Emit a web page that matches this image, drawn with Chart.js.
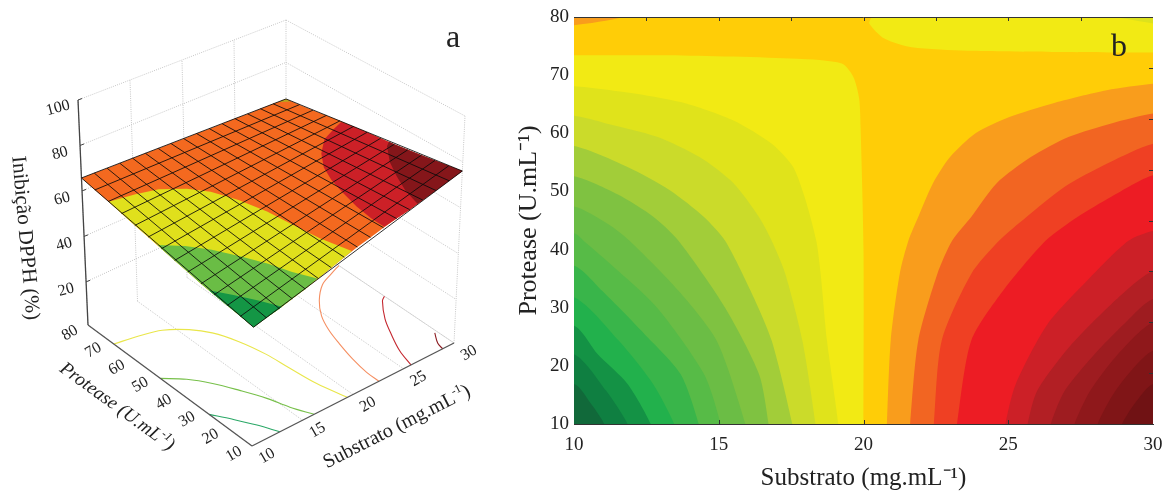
<!DOCTYPE html>
<html>
<head>
<meta charset="utf-8">
<title>Inibição DPPH</title>
<script src="https://cdn.jsdelivr.net/npm/chart.js@4/dist/chart.umd.min.js"></script>
<style>
  html, body { margin: 0; padding: 0; background: #fff; }
  #wrap { position: relative; width: 1165px; height: 493px; overflow: hidden; }
  canvas { position: absolute; top: 0; }
  #surfaceChart { left: 0; }
  #contourChart { left: 500px; }
</style>
</head>
<body>
<div id="wrap">
  <canvas id="surfaceChart" width="500" height="493"></canvas>
  <canvas id="contourChart" width="665" height="493"></canvas>
</div>
<script>
// --- tick labels ---
const substratoTicks = [10, 15, 20, 25, 30];
const proteaseTicks = [10, 20, 30, 40, 50, 60, 70, 80];
const inibicaoTicks = [20, 40, 60, 80, 100];

// --- panel b: band boundaries [substrato, protease] ---
const greenSide = [
  [[20, 10], [20, 40], [19.9, 61], [19.85, 66], [19.65, 69.7], [19.25, 72], [17.7, 72.8], [13.3, 73.4], [10, 73.4]],
  [[19.13, 10], [18.74, 24.3], [18.52, 35.8], [18.37, 41.5], [18, 48.5], [17.57, 54.2], [16.83, 58.2], [15.51, 62.2], [13.9, 65.1], [12.14, 66.8], [10, 68.1]],
  [[18.34, 10], [17.89, 24.3], [17.3, 35.8], [16.83, 41.5], [16.39, 45.6], [15.51, 51.4], [14.34, 55.9], [12.87, 59.4], [11.11, 61.7], [10, 63]],
  [[17.54, 10], [16.83, 24.3], [16.1, 32.9], [15.22, 41.5], [14.49, 45.6], [13.31, 50.2], [11.85, 54.2], [10, 57.8]],
  [[16.72, 10], [16.39, 18.6], [15.22, 30], [13.61, 41.5], [12.75, 45.6], [11.5, 49.5], [10, 52.6]],
  [[15.92, 10], [14.93, 24.3], [13.61, 32.9], [11.92, 41.5], [11.2, 44.3], [10, 47.4]],
  [[15.07, 10], [14.49, 18.6], [12.87, 30], [11.26, 37.5], [10.4, 41.2], [10, 42.8]],
  [[14.31, 10], [13.68, 18.6], [12.43, 25.5], [10.97, 32.9], [10, 37.2]],
  [[13.46, 10], [12.73, 16.9], [11.55, 24.3], [10, 31.8]],
  [[12.65, 10], [11.85, 16.9], [10.82, 22], [10, 26.9]],
  [[11.85, 10], [11.11, 15.7], [10, 22]],
  [[11.04, 10], [10.6, 13.4], [10, 16.9]],
];
const greenSideColors = ["#F2EA14", "#E0E31B", "#CBDB2A", "#A2CD39", "#7FC241", "#6BBD45", "#57BB47", "#39B54A", "#22B14C", "#149245", "#0F7F41", "#11693A"];

const redSide = [
  [[20.81, 10], [20.94, 24.3], [21.25, 35.8], [21.55, 41.5], [21.89, 45.6], [22.4, 51.4], [22.99, 55.9], [23.87, 60], [25.04, 62.8], [26.5, 65.1], [28.4, 67.4], [30, 68.5]],
  [[21.61, 10], [21.89, 24.3], [22.55, 35.8], [23.06, 41.5], [23.72, 45.6], [24.6, 51.4], [25.78, 55.9], [27.1, 59.4], [28.56, 61.7], [30, 63.4]],
  [[22.43, 10], [22.7, 24.3], [23.72, 35.8], [24.68, 41.5], [25.63, 45.6], [26.95, 50.8], [28.42, 54.8], [30, 58.2]],
  [[23.23, 10], [23.72, 24.3], [24.82, 32.9], [26.29, 41.5], [27.39, 45.6], [28.56, 49.1], [30, 52.8]],
  [[24.9, 10], [25.26, 16.9], [26.36, 27.2], [27.83, 35.2], [29.15, 41.5], [30, 43.2]],
  [[25.67, 10], [26, 15.7], [27.1, 23.2], [28.56, 30.6], [30, 36.3]],
  [[26.47, 10], [26.95, 15.7], [27.98, 22], [29, 27.2], [30, 31.5]],
  [[27.29, 10], [27.83, 15.7], [28.7, 21.5], [30, 27.5]],
  [[28.09, 10], [28.56, 14.6], [29.15, 18.6], [30, 22.6]],
  [[28.93, 10], [29.44, 14], [30, 16.9]],
];
const redSideColors = ["#F99D1C", "#F26522", "#EF4023", "#ED1C24", "#CC2027", "#B21F24", "#9E1C20", "#8F181B", "#801517", "#701214"];

const topRightYellow = [[20.28, 80], [20.2, 78.9], [20.72, 76.3], [21.67, 74.8], [23.58, 74.2], [26.5, 74], [30, 73.9]];
const topRightLime = [[28.7, 80], [30, 78.9]];
const topLeftOrange = [[10, 78.6], [11.7, 80]];
const contourBase = "#FFCD07";

// --- panel a: surface height along its four edges, at each mesh node ---
const meshSubstrato = [10, 11.25, 12.5, 13.75, 15, 16.25, 17.5, 18.75, 20, 21.25, 22.5, 23.75, 25, 26.25, 27.5, 28.75, 30];
const meshProtease = [10, 15.38, 20.77, 26.15, 31.54, 36.92, 42.31, 47.69, 53.08, 58.46, 63.85, 69.23, 74.62, 80];
const zFront = [50, 51.4, 52.7, 54.3, 55.9, 57.8, 59.8, 61.7, 63.5, 65.1, 66.7, 68.1, 69.4, 71, 72.6, 74.3, 76];
const zBack = [65.7, 65.5, 65.3, 65.1, 65, 64.8, 64.6, 64.4, 64.2, 64.1, 63.9, 63.7, 63.6, 63.3, 63.2, 63, 62.8];
const zLeft = [50, 50.9, 51.8, 52.6, 53.6, 54.9, 56.1, 57.4, 58.7, 60, 61.4, 62.9, 64.2, 65.7];
const zRight = [76, 74.9, 73.9, 72.8, 71.7, 70.7, 69.9, 69.1, 68.2, 67.2, 66.1, 64.9, 63.8, 62.8];

// contour lines of the surface [substrato, protease]
const lineDarkGreen = [[12.75, 10], [11.96, 16.3], [11, 22.5], [10, 28.3]];
const lineGreen = [[16.15, 10], [15.32, 16.7], [14.69, 23.8], [13.74, 31.3], [12.7, 38.4], [11.5, 44.3], [10, 49.1]];
const lineYellow = [[19.45, 10], [18.8, 20.2], [18.49, 30.4], [18.26, 39.2], [17.7, 48.4], [16.84, 56.1], [15.73, 61.2], [14.07, 65.6], [12.25, 67.5], [10, 69]];
const lineOrange = [[22.57, 10], [22.6, 15.3], [22.9, 22.5], [23.4, 30.2], [23.93, 36.8], [24.7, 43.1], [25.86, 48.9], [27.4, 54], [28.9, 56.4], [30, 58]];
const lineRed = [[25.74, 10], [26.28, 17], [27.16, 24.2], [28.1, 30.8], [29.47, 37.6], [30, 39]];
const lineDarkRed = [[28.88, 10], [29.06, 12.8], [29.76, 17]];
const backTip = [[29.3, 80], [30, 80], [30, 78.2]];
const levelDarkGreen = 53, levelGreen = 58, levelYellow = 63, levelOrange = 67, levelRed = 70.5;

const floorZ = 1, topZ = 100;

// camera of panel a: where the box corners land in the view scale
const floorView = { a: [252, 446], b: [454, 343], c: [88, 325], d: [286, 230] };
const topView = { a: [255, 206], b: [465, 116], c: [78, 100], d: [286, 20] };

function mixView(q, u, v) {
  const out = [0, 1].map((k) =>
    q.a[k] * (1 - u) * (1 - v) + q.b[k] * u * (1 - v) + q.c[k] * (1 - u) * v + q.d[k] * u * v
  );
  return out;
}

function project(s, p, z) {
  const u = (s - 10) / 20;
  const v = (p - 10) / 70;
  const w = (z - floorZ) / (topZ - floorZ);
  const lo = mixView(floorView, u, v);
  const hi = mixView(topView, u, v);
  return { x: lo[0] + (hi[0] - lo[0]) * w, y: lo[1] + (hi[1] - lo[1]) * w };
}

const surfaceSets = [];

function addPath(points, opts) {
  surfaceSets.push({
    data: points,
    showLine: true,
    pointRadius: 0,
    tension: 0,
    borderColor: opts.color,
    borderWidth: opts.width ?? 1,
    borderDash: opts.dash ?? [],
    backgroundColor: opts.fill ?? "transparent",
    fill: opts.fill ? "shape" : false,
  });
}

function addGridLine(a, b) {
  addPath([project(...a), project(...b)], { color: "#c6c6c6", width: 1, dash: [1, 1.2] });
}

function buildWalls() {
  inibicaoTicks.forEach((z) => {
    addGridLine([10, 80, z], [30, 80, z]);
    addGridLine([30, 80, z], [30, 10, z]);
  });
  substratoTicks.forEach((s) => {
    addGridLine([s, 80, floorZ], [s, 80, topZ]);
    addGridLine([s, 10, floorZ], [s, 80, floorZ]);
  });
  addGridLine([30, 80, floorZ], [30, 10, floorZ]);
  addGridLine([30, 10, floorZ], [30, 10, topZ]);
}

function buildAxes() {
  addPath([project(10, 80, topZ), project(10, 80, floorZ)], { color: "#444", width: 1.3 });
  addPath([project(10, 80, floorZ), project(10, 10, floorZ)], { color: "#555", width: 1.3 });
  addPath([project(10, 10, floorZ), project(30, 10, floorZ)], { color: "#555", width: 1.3 });
  inibicaoTicks.forEach((z) => {
    const t = project(10, 80, z);
    addPath([t, { x: t.x + 4, y: t.y - 1.5 }], { color: "#444", width: 1 });
  });
}

function buildFloorLines() {
  const lines = [
    [lineYellow, "#E9E64A"], [lineGreen, "#77C04A"], [lineDarkGreen, "#2BA867"],
    [lineOrange, "#F58F62"], [lineRed, "#C4262E"], [lineDarkRed, "#8C1C22"],
  ];
  lines.forEach(([pts, color]) => {
    surfaceSets.push({
      data: pts.map(([s, p]) => project(s, p, floorZ)),
      showLine: true, pointRadius: 0, tension: 0.35,
      borderColor: color, borderWidth: 1.1, fill: false,
    });
  });
}

const frontEdge = (s) => meshSubstrato.map((m, i) => [m, 10, zFront[i]]).filter((n) => n[0] < s);
const leftEdge = (p) => meshProtease.map((m, j) => [10, m, zLeft[j]]).filter((n) => n[1] < p);
const rightEdge = (p) => meshProtease.map((m, j) => [30, m, zRight[j]]).filter((n) => n[1] < p);

function greenRegion(line, level) {
  const curve = line.map(([s, p]) => [s, p, level]);
  const first = line[0], last = line[line.length - 1];
  const nodes = [...curve, ...leftEdge(last[1]).reverse().slice(0, -1), ...frontEdge(first[0])];
  return nodes.map((n) => project(...n));
}

function redRegion(line, level) {
  const curve = line.map(([s, p]) => [s, p, level]);
  const first = line[0], last = line[line.length - 1];
  const tail = meshSubstrato.map((m, i) => [m, 10, zFront[i]]).filter((n) => n[0] > first[0]);
  const nodes = [...curve, ...rightEdge(last[1]).reverse(), ...tail.reverse()];
  return nodes.map((n) => project(...n));
}

function buildSurface() {
  const outline = [
    ...meshSubstrato.map((s, i) => project(s, 10, zFront[i])),
    ...meshProtease.map((p, j) => project(30, p, zRight[j])),
    ...meshSubstrato.map((s, i) => project(s, 80, zBack[i])).reverse(),
    ...meshProtease.map((p, j) => project(10, p, zLeft[j])).reverse(),
  ];
  addPath(outline, { color: "#F4691F", width: 0, fill: "#F4691F" });
  addPath(greenRegion(lineYellow, levelYellow), { color: "#E0E01C", width: 0, fill: "#E0E01C" });
  addPath(greenRegion(lineGreen, levelGreen), { color: "#6ABD45", width: 0, fill: "#6ABD45" });
  addPath(greenRegion(lineDarkGreen, levelDarkGreen), { color: "#149645", width: 0, fill: "#149645" });
  addPath(redRegion(lineOrange, levelOrange), { color: "#CC2027", width: 0, fill: "#CC2027" });
  addPath(redRegion(lineRed, levelRed), { color: "#85161A", width: 0, fill: "#85161A" });
  addPath(backTip.map(([s, p]) => project(s, p, 62.8)), { color: "#B5A81E", width: 0, fill: "#B5A81E" });

  meshSubstrato.forEach((s, i) => {
    addPath([project(s, 10, zFront[i]), project(s, 80, zBack[i])], { color: "rgba(10,10,10,0.85)", width: 1 });
  });
  meshProtease.forEach((p, j) => {
    addPath([project(10, p, zLeft[j]), project(30, p, zRight[j])], { color: "rgba(10,10,10,0.85)", width: 1 });
  });
}

buildWalls();
buildFloorLines();
buildAxes();
buildSurface();
surfaceSets.forEach((d, i) => (d.order = surfaceSets.length - i));

const SERIF = "'Liberation Serif', 'Times New Roman', serif";

// text with a raised "-1", centred on (x, y)
function drawTitle(ctx, x, y, deg, before, sup, after, size, style) {
  ctx.save();
  ctx.translate(x, y);
  ctx.rotate((deg * Math.PI) / 180);
  ctx.fillStyle = "#222";
  ctx.textBaseline = "middle";
  ctx.textAlign = "left";
  const main = `${style || ""} ${size}px ${SERIF}`;
  const small = `${style || ""} ${Math.round(size * 0.62)}px ${SERIF}`;
  ctx.font = main;
  const w1 = ctx.measureText(before).width;
  const w3 = ctx.measureText(after).width;
  ctx.font = small;
  const w2 = ctx.measureText(sup).width;
  let cx = -(w1 + w2 + w3) / 2;
  ctx.font = main;
  ctx.fillText(before, cx, 0);
  cx += w1;
  ctx.font = small;
  ctx.fillText(sup, cx, -size * 0.3);
  cx += w2;
  ctx.font = main;
  ctx.fillText(after, cx, 0);
  ctx.restore();
}

function drawTick(ctx, x, y, deg, text) {
  ctx.save();
  ctx.translate(x, y);
  ctx.rotate((deg * Math.PI) / 180);
  ctx.fillStyle = "#222";
  ctx.font = `16px ${SERIF}`;
  ctx.textAlign = "center";
  ctx.textBaseline = "middle";
  ctx.fillText(text, 0, 0);
  ctx.restore();
}

const surfaceText = {
  id: "surfaceText",
  afterDatasetsDraw(chart) {
    const { ctx, scales } = chart;
    const px = (pt) => [scales.x.getPixelForValue(pt.x), scales.y.getPixelForValue(pt.y)];
    substratoTicks.forEach((s) => {
      const [x, y] = px(project(s, 10, floorZ));
      drawTick(ctx, x + 15, y + 10, -30, String(s));
    });
    proteaseTicks.forEach((p) => {
      const [x, y] = px(project(10, p, floorZ));
      drawTick(ctx, x - 18, y + 8, -30, String(p));
    });
    inibicaoTicks.forEach((z) => {
      const [x, y] = px(project(10, 80, z));
      drawTick(ctx, x - 20, y + 8, -15, String(z));
    });
    drawTitle(ctx, 25, 238, 85, "Inibição DPPH (%)", "", "", 21);
    drawTitle(ctx, 117, 407, 36, "Protease (U.mL", "-1", ")", 19, "italic");
    drawTitle(ctx, 397, 427, -27, "Substrato (mg.mL", "-1", ")", 20);
    ctx.fillStyle = "#222";
    ctx.font = `32px ${SERIF}`;
    ctx.textAlign = "center";
    ctx.textBaseline = "alphabetic";
    ctx.fillText("a", 453, 47);
  },
};

new Chart(document.getElementById("surfaceChart"), {
  type: "scatter",
  data: { datasets: surfaceSets },
  options: {
    responsive: false,
    animation: false,
    devicePixelRatio: 1,
    layout: { padding: 0 },
    plugins: { legend: { display: false }, tooltip: { enabled: false } },
    scales: {
      x: { type: "linear", min: 0, max: 500, display: false },
      y: { type: "linear", min: 0, max: 493, reverse: true, display: false },
    },
  },
  plugins: [surfaceText],
});

// ---- panel b ----
function band(points, color) {
  return {
    data: points.map(([x, y]) => ({ x, y })),
    showLine: true,
    pointRadius: 0,
    tension: 0.25,
    borderWidth: 0,
    borderColor: color,
    backgroundColor: color,
    fill: "shape",
  };
}

const contourSets = [];
contourSets.push(band([[8, 8], [32, 8], [32, 82], [8, 82]], contourBase));
contourSets[0].tension = 0;
contourSets.push(band([[8, 78.2], ...topLeftOrange, [12.5, 82], [8, 82]], "#F99D1C"));
contourSets.push(band([[20.35, 82], ...topRightYellow, [32, 73.9], [32, 82]], "#F2EA14"));
contourSets.push(band([topRightLime[0], topRightLime[1], [32, 77.5], [32, 82], [27.5, 82]], "#DDE21C"));
greenSide.forEach((edge, i) => {
  const first = edge[0], last = edge[edge.length - 1];
  contourSets.push(band([[first[0], 8], ...edge, [8, last[1]], [8, 8]], greenSideColors[i]));
});
redSide.forEach((edge, i) => {
  const first = edge[0], last = edge[edge.length - 1];
  contourSets.push(band([[first[0], 8], ...edge, [32, last[1] + 1], [32, 8]], redSideColors[i]));
});
contourSets.forEach((d, i) => (d.order = contourSets.length - i));

const contourTicks = {
  id: "contourTicks",
  afterDatasetsDraw(chart) {
    const { ctx, chartArea: a, scales } = chart;
    ctx.save();
    ctx.strokeStyle = "#333";
    ctx.lineWidth = 1;
    ctx.beginPath();
    ctx.moveTo(a.left, a.top + 0.5);
    ctx.lineTo(a.right, a.top + 0.5);
    for (let s = 12.5; s < 30; s += 2.5) {
      const x = Math.round(scales.x.getPixelForValue(s)) + 0.5;
      ctx.moveTo(x, a.top);
      ctx.lineTo(x, a.top + 4);
    }
    for (let p = 18.75; p < 80; p += 8.75) {
      const y = Math.round(scales.y.getPixelForValue(p)) + 0.5;
      ctx.moveTo(a.right, y);
      ctx.lineTo(a.right - 4, y);
    }
    substratoTicks.slice(1, -1).forEach((s) => {
      const x = Math.round(scales.x.getPixelForValue(s)) + 0.5;
      ctx.moveTo(x, a.bottom);
      ctx.lineTo(x, a.bottom - 4);
    });
    ctx.stroke();
    ctx.restore();
    ctx.fillStyle = "#222";
    ctx.font = `32px ${SERIF}`;
    ctx.textAlign = "center";
    ctx.textBaseline = "alphabetic";
    ctx.fillText("b", 619, 56);
  },
};

new Chart(document.getElementById("contourChart"), {
  type: "scatter",
  data: { datasets: contourSets },
  options: {
    responsive: false,
    animation: false,
    devicePixelRatio: 1,
    layout: { padding: { left: 14, top: 17, right: 12, bottom: 0 } },
    plugins: { legend: { display: false }, tooltip: { enabled: false } },
    scales: {
      x: {
        type: "linear",
        min: 10,
        max: 30,
        afterFit: (s) => { s.height = 69; s.paddingLeft = 0; s.paddingRight = 0; },
        afterBuildTicks: (s) => { s.ticks = substratoTicks.map((value) => ({ value })); },
        grid: { display: false, drawTicks: false },
        border: { display: true, color: "#333", width: 1 },
        ticks: { padding: 10, maxRotation: 0, color: "#222", font: { family: SERIF, size: 19 } },
        title: {
          display: true,
          text: "Substrato (mg.mL⁻¹)",
          color: "#222",
          padding: { top: 10, bottom: 0 },
          font: { family: SERIF, size: 25 },
        },
      },
      y: {
        type: "linear",
        min: 10,
        max: 80,
        afterFit: (s) => { s.width = 60; s.paddingTop = 0; s.paddingBottom = 0; },
        afterBuildTicks: (s) => { s.ticks = proteaseTicks.map((value) => ({ value })); },
        grid: { display: false, drawTicks: false },
        border: { display: false },
        ticks: { padding: 5, color: "#222", font: { family: SERIF, size: 19 } },
        title: {
          display: true,
          text: "Protease (U.mL⁻¹)",
          color: "#222",
          padding: { top: 0, bottom: 4 },
          font: { family: SERIF, size: 26 },
        },
      },
    },
  },
  plugins: [contourTicks],
});
</script>
</body>
</html>
